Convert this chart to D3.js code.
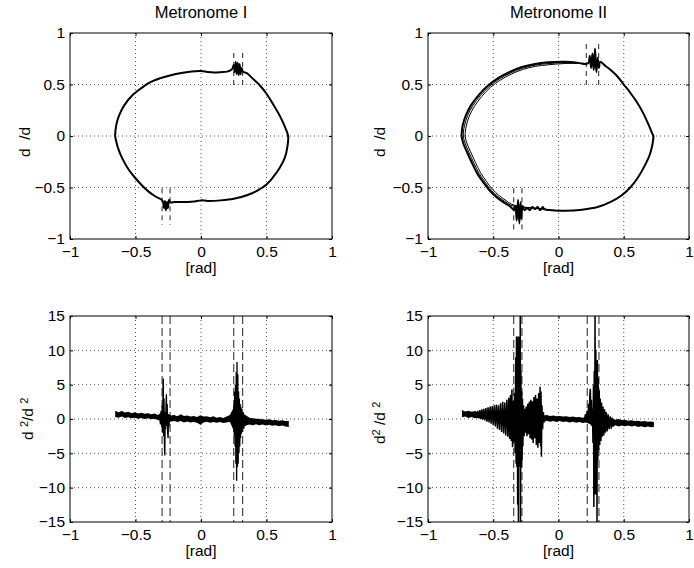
<!DOCTYPE html>
<html>
<head>
<meta charset="utf-8">
<script src="https://cdn.jsdelivr.net/npm/d3@7"></script>
<style>
body { margin: 0; background: #fff; }
svg { display: block; font-family: 'Liberation Sans', Arial, Helvetica, sans-serif; }
.grid line { stroke: #555; stroke-width: 1; stroke-dasharray: 1,3; }
.tick text { font-size: 15.5px; }
.lbl { font-size: 15.5px; white-space: pre; }
.ttl { font-size: 16.5px; }
</style>
</head>
<body>
<script>
'use strict'

const xTicks = [-1, -0.5, 0, 0.5, 1]
const phaseTicks = [-1, -0.5, 0, 0.5, 1]
const accelTicks = [-15, -10, -5, 0, 5, 10, 15]
const titles = ['Metronome I', 'Metronome II']

// metronome I, phase loop  [theta, dtheta]
const tlLoop = [
  [-0.656, 0.00], [-0.648, 0.10], [-0.625, 0.20], [-0.585, 0.30], [-0.52, 0.40],
  [-0.45, 0.47], [-0.39, 0.52], [-0.30, 0.565], [-0.20, 0.60], [-0.10, 0.622],
  [0.00, 0.632], [0.05, 0.622], [0.10, 0.617], [0.15, 0.620], [0.20, 0.625],
  [0.235, 0.645], [0.25, 0.69], [0.258, 0.62], [0.265, 0.72], [0.272, 0.60],
  [0.28, 0.71], [0.288, 0.59], [0.295, 0.70], [0.302, 0.60], [0.31, 0.66],
  [0.32, 0.625], [0.35, 0.61], [0.40, 0.55], [0.45, 0.49], [0.50, 0.41],
  [0.55, 0.31], [0.60, 0.20], [0.64, 0.09], [0.665, 0.00], [0.66, -0.10],
  [0.64, -0.21], [0.60, -0.31], [0.55, -0.40], [0.50, -0.47], [0.43, -0.53],
  [0.35, -0.575], [0.25, -0.61], [0.15, -0.625], [0.05, -0.63], [0.00, -0.625],
  [-0.05, -0.635], [-0.10, -0.64], [-0.15, -0.64], [-0.20, -0.64], [-0.235, -0.645],
  [-0.245, -0.62], [-0.252, -0.70], [-0.26, -0.64], [-0.268, -0.72], [-0.275, -0.63],
  [-0.283, -0.70], [-0.29, -0.64], [-0.30, -0.62], [-0.35, -0.585], [-0.40, -0.54],
  [-0.45, -0.48], [-0.50, -0.41], [-0.55, -0.33], [-0.60, -0.22], [-0.635, -0.11],
  [-0.656, 0.00]
]
const tlMarks = [[-0.297, -0.508, -0.864], [-0.236, -0.508, -0.864], [0.25, 0.495, 0.84], [0.318, 0.495, 0.84]]

// metronome II, phase loops
const trOuter = [
  [-0.743, 0.00], [-0.735, 0.10], [-0.71, 0.20], [-0.67, 0.30], [-0.61, 0.40],
  [-0.54, 0.49], [-0.46, 0.565], [-0.37, 0.625], [-0.28, 0.67], [-0.18, 0.70],
  [-0.08, 0.715], [0.05, 0.72], [0.15, 0.71], [0.21, 0.70], [0.23, 0.71],
  [0.24, 0.78], [0.25, 0.66], [0.26, 0.80], [0.27, 0.64], [0.28, 0.85],
  [0.29, 0.62], [0.30, 0.76], [0.31, 0.66], [0.32, 0.72], [0.36, 0.68],
  [0.40, 0.64], [0.45, 0.58], [0.50, 0.50], [0.55, 0.42], [0.60, 0.33],
  [0.65, 0.22], [0.69, 0.11], [0.72, 0.02], [0.727, 0.00], [0.72, -0.08],
  [0.70, -0.18], [0.66, -0.29], [0.61, -0.40], [0.55, -0.50], [0.48, -0.58],
  [0.40, -0.64], [0.30, -0.69], [0.18, -0.715], [0.05, -0.725], [-0.05, -0.72],
  [-0.11, -0.71], [-0.12, -0.69], [-0.14, -0.72], [-0.16, -0.69], [-0.18, -0.71],
  [-0.20, -0.69], [-0.22, -0.72], [-0.24, -0.70], [-0.26, -0.72], [-0.275, -0.68],
  [-0.285, -0.80], [-0.29, -0.64], [-0.30, -0.85], [-0.31, -0.62], [-0.32, -0.82],
  [-0.33, -0.68], [-0.34, -0.72], [-0.37, -0.685], [-0.42, -0.645], [-0.47, -0.60],
  [-0.52, -0.54], [-0.57, -0.46], [-0.62, -0.37], [-0.66, -0.27], [-0.70, -0.16],
  [-0.73, -0.07], [-0.743, 0.00]
]
const trMiddle = [
  [0.15, 0.707], [0.05, 0.712], [-0.08, 0.703], [-0.179, 0.688], [-0.277, 0.658],
  [-0.366, 0.613], [-0.453, 0.554], [-0.531, 0.481], [-0.599, 0.392], [-0.657, 0.294],
  [-0.697, 0.196], [-0.721, 0.099], [-0.729, 0.00], [-0.716, -0.068], [-0.687, -0.156],
  [-0.648, -0.264], [-0.609, -0.362], [-0.561, -0.451], [-0.512, -0.529], [-0.464, -0.588],
  [-0.415, -0.632], [-0.367, -0.672], [-0.30, -0.69], [-0.20, -0.70], [-0.10, -0.712]
]
const trInner = [
  [0.15, 0.704], [0.05, 0.704], [-0.08, 0.691], [-0.178, 0.676], [-0.274, 0.646],
  [-0.362, 0.601], [-0.446, 0.543], [-0.522, 0.472], [-0.588, 0.384], [-0.644, 0.288],
  [-0.684, 0.192], [-0.707, 0.097], [-0.715, 0.00], [-0.703, -0.067], [-0.674, -0.152],
  [-0.636, -0.258], [-0.598, -0.354], [-0.552, -0.441], [-0.505, -0.518], [-0.457, -0.576],
  [-0.410, -0.62], [-0.363, -0.66], [-0.30, -0.684], [-0.20, -0.698], [-0.10, -0.71]
]
const trMarks = [[-0.343, -0.508, -0.91], [-0.28, -0.508, -0.91], [0.213, 0.495, 0.90], [0.308, 0.495, 0.90]]

// metronome I, acceleration  [theta, low, high]
const blBand = [
  [-0.655, 0.3, 1.2], [-0.63, 0.2, 1.0], [-0.605, 0.35, 1.15], [-0.58, 0.15, 0.95],
  [-0.555, 0.25, 1.05], [-0.53, 0.1, 0.85], [-0.505, 0.2, 1.0], [-0.48, 0.05, 0.8],
  [-0.455, 0.15, 0.9], [-0.43, 0.0, 0.75], [-0.405, 0.1, 0.85], [-0.38, -0.05, 0.7],
  [-0.355, 0.05, 0.8], [-0.33, -0.15, 0.6], [-0.305, -0.3, 0.9], [-0.28, -0.6, 1.0],
  [-0.255, -0.6, 0.8], [-0.23, -0.35, 0.5], [-0.205, -0.3, 0.6], [-0.18, -0.45, 0.4],
  [-0.155, -0.3, 0.7], [-0.13, -0.5, 0.45], [-0.105, -0.35, 0.5], [-0.08, -0.5, 0.35],
  [-0.055, -0.45, 0.45], [-0.03, -0.55, 0.3], [-0.005, -0.85, 0.55], [0.02, -0.5, 0.35],
  [0.045, -0.4, 0.4], [0.07, -0.55, 0.25], [0.095, -0.45, 0.4], [0.12, -0.55, 0.2],
  [0.145, -0.45, 0.3], [0.17, -0.6, 0.15], [0.195, -0.5, 0.35], [0.22, -0.4, 0.6],
  [0.245, -1.5, 1.5], [0.27, -3.0, 3.0], [0.295, -3.0, 2.0], [0.32, -1.2, 0.8],
  [0.345, -0.9, 0.5], [0.37, -0.8, 0.2], [0.395, -0.9, 0.1], [0.42, -0.75, 0.05],
  [0.445, -0.9, 0.0], [0.47, -0.8, -0.05], [0.495, -0.95, -0.1], [0.52, -0.85, -0.05],
  [0.545, -1.0, -0.2], [0.57, -0.9, -0.15], [0.595, -1.05, -0.25], [0.62, -0.95, -0.2],
  [0.645, -1.1, -0.3], [0.67, -1.15, -0.3]
]
const blBurst1 = [
  [-0.315, 0.6], [-0.31, -0.8], [-0.305, 1.2], [-0.300, -1.2], [-0.296, 2.0],
  [-0.293, -2.0], [-0.290, 4.5], [-0.288, 5.9], [-0.285, -2.5], [-0.282, 3.0],
  [-0.279, -4.0], [-0.276, -5.3], [-0.273, 1.0], [-0.270, -1.5], [-0.267, 2.0],
  [-0.264, 3.6], [-0.261, -1.0], [-0.258, 2.2], [-0.255, -2.0], [-0.251, -2.8],
  [-0.248, 0.5], [-0.245, -1.2], [-0.24, 0.2]
]
const blBurst2 = [
  [0.235, 0.3], [0.24, -0.5], [0.245, 1.0], [0.248, -1.2], [0.251, 2.0],
  [0.254, -2.5], [0.257, 4.0], [0.260, -4.0], [0.263, 5.0], [0.266, -6.5],
  [0.269, 6.8], [0.272, -9.0], [0.275, 8.3], [0.278, -7.0], [0.281, 6.5],
  [0.284, -6.5], [0.287, 4.0], [0.290, -5.0], [0.293, 3.0], [0.296, -4.0],
  [0.299, 2.2], [0.302, -2.8], [0.305, 1.8], [0.309, -2.2], [0.313, 1.5],
  [0.317, -1.8], [0.322, 1.0], [0.327, -1.4], [0.333, 0.5], [0.34, -1.0], [0.35, 0.2]
]
const blMarks = [-0.297, -0.236, 0.25, 0.318]

// metronome II, acceleration
const brBand = [
  [-0.74, 0.25, 1.3], [-0.715, 0.35, 1.1], [-0.69, 0.15, 1.2], [-0.665, 0.3, 1.05],
  [-0.64, 0.1, 1.15], [-0.615, 0.2, 1.0], [-0.59, 0.0, 1.1], [-0.565, 0.1, 0.95],
  [-0.54, -0.1, 1.0], [-0.515, 0.0, 0.9], [-0.49, -0.2, 0.95], [-0.465, -0.1, 0.8],
  [-0.44, -0.3, 0.85], [-0.415, -0.2, 0.7], [-0.39, -0.4, 0.75], [-0.365, -0.3, 0.6],
  [-0.34, -0.5, 0.7], [-0.315, -0.6, 0.6], [-0.29, -0.5, 0.5], [-0.265, -0.6, 0.55],
  [-0.24, -0.45, 0.6], [-0.215, -0.55, 0.5], [-0.19, -0.4, 0.6], [-0.165, -0.5, 0.45],
  [-0.14, -0.35, 0.55], [-0.115, -0.45, 0.5], [-0.09, -0.25, 0.6], [-0.065, -0.4, 0.45],
  [-0.04, -0.3, 0.5], [-0.015, -0.45, 0.4], [0.01, -0.3, 0.45], [0.035, -0.45, 0.35],
  [0.06, -0.35, 0.4], [0.085, -0.5, 0.3], [0.11, -0.4, 0.35], [0.135, -0.55, 0.25],
  [0.16, -0.45, 0.3], [0.185, -0.6, 0.2], [0.21, -0.5, 0.3], [0.235, -0.7, 0.5],
  [0.26, -1.0, 0.8], [0.285, -1.0, 0.8], [0.31, -1.2, 0.6], [0.335, -1.3, 0.4],
  [0.36, -1.1, 0.2], [0.385, -1.0, 0.05], [0.41, -1.1, 0.1], [0.435, -0.9, -0.1],
  [0.46, -1.1, 0.0], [0.485, -0.95, -0.15], [0.51, -1.05, -0.1], [0.535, -0.95, -0.25],
  [0.56, -1.1, -0.2], [0.585, -1.0, -0.3], [0.61, -1.15, -0.25], [0.635, -1.05, -0.35],
  [0.66, -1.2, -0.3], [0.685, -1.1, -0.4], [0.71, -1.2, -0.35], [0.731, -1.15, -0.45]
]
const brBurst1 = [
  [-0.62, 1.2], [-0.612, 0.1], [-0.604, 1.3], [-0.596, 0.0], [-0.588, 1.4],
  [-0.580, -0.1], [-0.572, 1.5], [-0.564, -0.2], [-0.556, 1.6], [-0.548, -0.4],
  [-0.540, 1.7], [-0.532, -0.5], [-0.524, 1.8], [-0.516, -0.7], [-0.508, 1.9],
  [-0.500, -0.9], [-0.492, 2.0], [-0.484, -1.1], [-0.476, 2.1], [-0.468, -1.4],
  [-0.460, 2.0], [-0.452, -1.6], [-0.444, 2.3], [-0.436, -1.9], [-0.428, 2.5],
  [-0.420, -2.1], [-0.412, 2.4], [-0.404, -2.4], [-0.396, 2.8], [-0.388, -2.6],
  [-0.381, 3.1], [-0.374, -2.9], [-0.368, 3.5], [-0.362, -3.2], [-0.357, 4.3],
  [-0.352, -4.1], [-0.347, 2.6], [-0.342, -3.3], [-0.337, 3.8], [-0.332, -5.0],
  [-0.328, 9.0], [-0.325, -6.5], [-0.322, 12.0], [-0.319, -7.0], [-0.316, 11.5],
  [-0.313, -12.5], [-0.310, 12.0], [-0.307, -16.0], [-0.304, 11.0], [-0.301, -6.5],
  [-0.298, 12.0], [-0.295, -7.0], [-0.293, 16.0], [-0.291, -16.0], [-0.288, 7.0],
  [-0.285, -7.0], [-0.282, 4.0], [-0.279, -6.0], [-0.276, 3.0], [-0.273, -4.0],
  [-0.268, 2.0], [-0.263, -2.5], [-0.258, 1.5], [-0.253, -2.0], [-0.248, 1.8],
  [-0.242, -2.5], [-0.236, 2.2], [-0.230, -2.2], [-0.224, 2.5], [-0.218, -2.8],
  [-0.212, 2.8], [-0.206, -3.0], [-0.200, 2.6], [-0.194, -3.5], [-0.188, 3.2],
  [-0.182, -2.8], [-0.176, 3.5], [-0.170, -3.8], [-0.164, 3.0], [-0.158, -4.2],
  [-0.152, 3.8], [-0.146, -3.5], [-0.141, 4.7], [-0.137, -4.0], [-0.134, 4.0],
  [-0.131, -5.5], [-0.127, 2.0], [-0.122, -1.5], [-0.116, 1.0], [-0.110, -0.5], [-0.104, 0.3]
]
const brBurst2 = [
  [0.20, 0.1], [0.207, 0.7], [0.213, -0.4], [0.219, 1.2], [0.225, -0.3],
  [0.231, 2.2], [0.236, 0.3], [0.240, 3.4], [0.244, 4.4], [0.248, 0.5],
  [0.252, 2.8], [0.256, -1.0], [0.260, 1.5], [0.264, -3.5], [0.268, 5.0],
  [0.271, -12.8], [0.274, 7.0], [0.277, -9.0], [0.280, 16.0], [0.283, -11.0],
  [0.286, 10.0], [0.289, -8.0], [0.292, 7.0], [0.295, -16.0], [0.298, 8.6],
  [0.301, -6.0], [0.304, 6.0], [0.308, -4.5], [0.312, 4.2], [0.316, -3.8],
  [0.320, 3.0], [0.325, -3.2], [0.330, 2.4], [0.335, -2.6], [0.341, 1.8],
  [0.347, -2.4], [0.353, 1.4], [0.359, -2.0], [0.366, 1.0], [0.373, -1.8],
  [0.380, 0.7], [0.388, -1.5], [0.396, 0.4], [0.404, -1.4], [0.412, 0.2],
  [0.42, -1.1], [0.43, -0.2]
]
const brMarks = [-0.343, -0.28, 0.22, 0.31]

const svg = d3.select('body').append('svg')
    .attr('width', 694)
    .attr('height', 568)

const fmt = d3.format('')
let clipId = 0

function drawPanel(p) {
  const x = d3.scaleLinear().domain([-1, 1]).range([p.left, p.right])
  const y = d3.scaleLinear().domain(p.yDomain).range([p.bottom, p.top])
  const g = svg.append('g')

  // dotted grid
  const grid = g.append('g').attr('class', 'grid')
  grid.selectAll('.gx').data(xTicks.slice(1, -1)).enter().append('line')
      .attr('x1', d => x(d)).attr('x2', d => x(d))
      .attr('y1', p.top).attr('y2', p.bottom)
  grid.selectAll('.gy').data(p.yTicks.slice(1, -1)).enter().append('line')
      .attr('y1', d => y(d)).attr('y2', d => y(d))
      .attr('x1', p.left).attr('x2', p.right)

  const id = 'clip' + (clipId++)
  g.append('clipPath').attr('id', id)
    .append('rect')
      .attr('x', p.left).attr('y', p.top)
      .attr('width', p.right - p.left).attr('height', p.bottom - p.top)

  const marks = g.append('g').attr('clip-path', 'url(#' + id + ')')
  p.draw(marks, x, y)

  // box + inward ticks
  g.append('rect')
      .attr('x', p.left).attr('y', p.top)
      .attr('width', p.right - p.left).attr('height', p.bottom - p.top)
      .attr('fill', 'none').attr('stroke', '#000')

  const clean = sel => sel.attr('font-size', null).attr('font-family', null)
    .call(s => s.select('.domain').remove())

  g.append('g')
      .attr('transform', 'translate(0,' + p.bottom + ')')
      .call(d3.axisBottom(x).tickValues(xTicks).tickFormat(fmt).tickSizeInner(-3).tickSizeOuter(0).tickPadding(7))
      .call(clean)
  g.append('g')
      .attr('transform', 'translate(0,' + p.top + ')')
      .call(d3.axisTop(x).tickValues(xTicks).tickSizeInner(-3).tickSizeOuter(0).tickFormat(''))
      .call(clean)
  g.append('g')
      .attr('transform', 'translate(' + p.left + ',0)')
      .call(d3.axisLeft(y).tickValues(p.yTicks).tickFormat(fmt).tickSizeInner(-3).tickSizeOuter(0).tickPadding(5))
      .call(clean)
  g.append('g')
      .attr('transform', 'translate(' + p.right + ',0)')
      .call(d3.axisRight(y).tickValues(p.yTicks).tickSizeInner(-3).tickSizeOuter(0).tickFormat(''))
      .call(clean)

  if (p.title) {
    g.append('text')
        .attr('class', 'lbl ttl')
        .attr('x', (p.left + p.right) / 2)
        .attr('y', p.top - 15)
        .attr('text-anchor', 'middle')
        .text(p.title)
  }

  g.append('text')
      .attr('class', 'lbl')
      .attr('x', (p.left + p.right) / 2)
      .attr('y', p.bottom + 34)
      .attr('text-anchor', 'middle')
      .text('[rad]')

  const yl = g.append('text')
      .attr('class', 'lbl')
      .attr('transform', 'translate(' + p.ylabelX + ',' + p.ylabelY + ') rotate(-90)')
  p.ylabel.forEach(part => {
    yl.append('tspan')
        .attr('dy', part.sup ? -5 : (part.after ? 5 : 0))
        .attr('font-size', part.sup ? 11 : null)
        .text(part.t)
  })
}

const line = (x, y) => d3.line().x(d => x(d[0])).y(d => y(d[1]))
const smooth = (x, y) => line(x, y).curve(d3.curveCatmullRom.alpha(0.5))
const band = (x, y) => d3.area().x(d => x(d[0])).y0(d => y(d[1])).y1(d => y(d[2]))

function shortMarks(sel, x, y, data) {
  sel.selectAll('.mk').data(data).enter().append('line')
      .attr('x1', d => x(d[0])).attr('x2', d => x(d[0]))
      .attr('y1', d => y(d[1])).attr('y2', d => y(d[2]))
      .attr('stroke', '#222').attr('stroke-dasharray', '5,4')
}

function fullMarks(sel, x, y, data) {
  sel.selectAll('.mk').data(data).enter().append('line')
      .attr('x1', d => x(d)).attr('x2', d => x(d))
      .attr('y1', y(15)).attr('y2', y(-15))
      .attr('stroke', '#222').attr('stroke-dasharray', '8,4')
}

const labelPhase = [{t: 'd  /d'}]

drawPanel({
  left: 70, right: 332, top: 33, bottom: 239,
  yDomain: [-1, 1], yTicks: phaseTicks, title: titles[0],
  ylabel: labelPhase, ylabelX: 30, ylabelY: 157,
  draw: (g, x, y) => {
    shortMarks(g, x, y, tlMarks)
    g.append('path').datum(tlLoop)
        .attr('d', smooth(x, y)).attr('fill', 'none')
        .attr('stroke', '#000').attr('stroke-width', 2)
  }
})

drawPanel({
  left: 428, right: 689, top: 33, bottom: 239,
  yDomain: [-1, 1], yTicks: phaseTicks, title: titles[1],
  ylabel: labelPhase, ylabelX: 385, ylabelY: 157,
  draw: (g, x, y) => {
    shortMarks(g, x, y, trMarks)
    g.append('path').datum(trOuter)
        .attr('d', smooth(x, y)).attr('fill', 'none')
        .attr('stroke', '#000').attr('stroke-width', 2)
    ;[trMiddle, trInner].forEach(d => {
      g.append('path').datum(d)
          .attr('d', smooth(x, y)).attr('fill', 'none')
          .attr('stroke', '#000').attr('stroke-width', 1)
    })
  }
})

drawPanel({
  left: 70, right: 332, top: 316, bottom: 522,
  yDomain: [-15, 15], yTicks: accelTicks,
  ylabel: [{t: 'd '}, {t: '2', sup: true}, {t: '/d ', after: true}, {t: '2', sup: true}],
  ylabelX: 33, ylabelY: 440,
  draw: (g, x, y) => {
    fullMarks(g, x, y, blMarks)
    g.append('path').datum(blBand).attr('d', band(x, y)).attr('fill', '#000')
    ;[blBurst1, blBurst2].forEach(d => {
      g.append('path').datum(d)
          .attr('d', line(x, y)).attr('fill', 'none')
          .attr('stroke', '#000').attr('stroke-width', 1.3)
    })
  }
})

drawPanel({
  left: 428, right: 689, top: 316, bottom: 522,
  yDomain: [-15, 15], yTicks: accelTicks,
  ylabel: [{t: 'd'}, {t: '2', sup: true}, {t: ' /d ', after: true}, {t: '2', sup: true}],
  ylabelX: 385, ylabelY: 444,
  draw: (g, x, y) => {
    fullMarks(g, x, y, brMarks)
    g.append('path').datum(brBand).attr('d', band(x, y)).attr('fill', '#000')
    ;[brBurst1, brBurst2].forEach(d => {
      g.append('path').datum(d)
          .attr('d', line(x, y)).attr('fill', 'none')
          .attr('stroke', '#000').attr('stroke-width', 1.5)
    })
  }
})
</script>
</body>
</html>
